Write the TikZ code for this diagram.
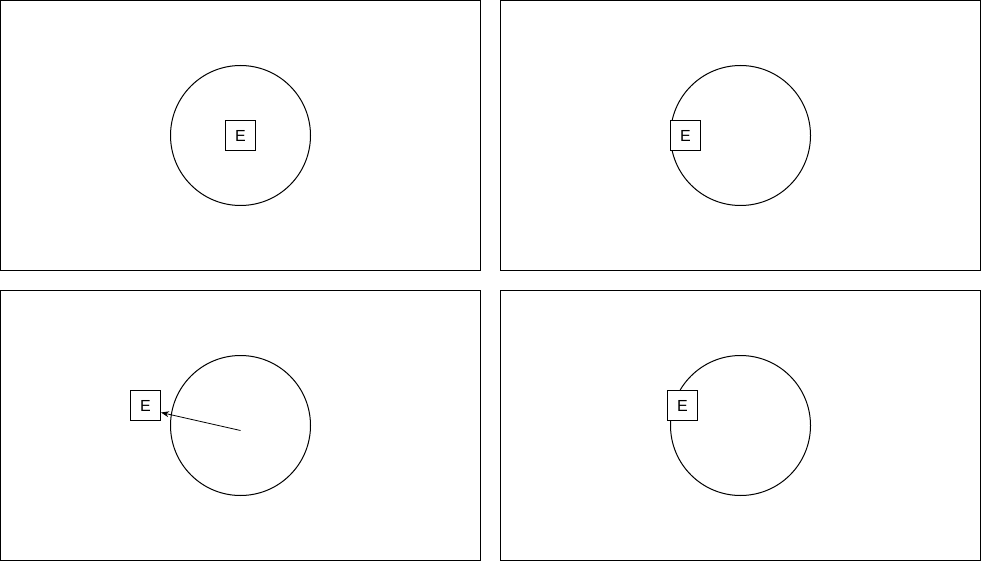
\documentclass[tikz,border=0pt]{standalone}
\usepackage{fontspec}
\setmainfont{Liberation Sans}
\usetikzlibrary{arrows.meta}
\begin{document}
\begin{tikzpicture}[x=1pt,y=-1pt,line width=1pt,
  panel/.style={draw,rectangle},
  ring/.style={draw,circle,minimum size=140pt,inner sep=0pt},
  ebox/.style={draw,fill=white,rectangle,minimum size=30pt,inner sep=0pt,font=\fontsize{16}{19}\selectfont},
  arr/.style={-{Stealth[length=8pt,width=6pt]},line width=0.8pt}]
\useasboundingbox (0,0) rectangle (981,561);
\draw[panel] (0.5,0.5) rectangle (480.5,270.5);
\draw[panel] (500.5,0.5) rectangle (980.5,270.5);
\draw[panel] (0.5,290.5) rectangle (480.5,560.5);
\draw[panel] (500.5,290.5) rectangle (980.5,560.5);
\node[ring] (c1) at (240.5,135.5) {};
\node[ring] (c2) at (740.5,135.5) {};
\node[ring] (c3) at (240.5,425.5) {};
\node[ring] (c4) at (740.5,425.5) {};
\node[ebox] (e1) at (240.5,135.5) {E};
\node[ebox] (e2) at (685.5,135.5) {E};
\node[ebox] (e3) at (145.5,405.5) {E};
\node[ebox] (e4) at (682.5,405.5) {E};
\coordinate (s3) at (240.5,430.5);
\draw[arr] (s3) -- ([yshift=-7pt]e3.east);
\end{tikzpicture}
\end{document}
